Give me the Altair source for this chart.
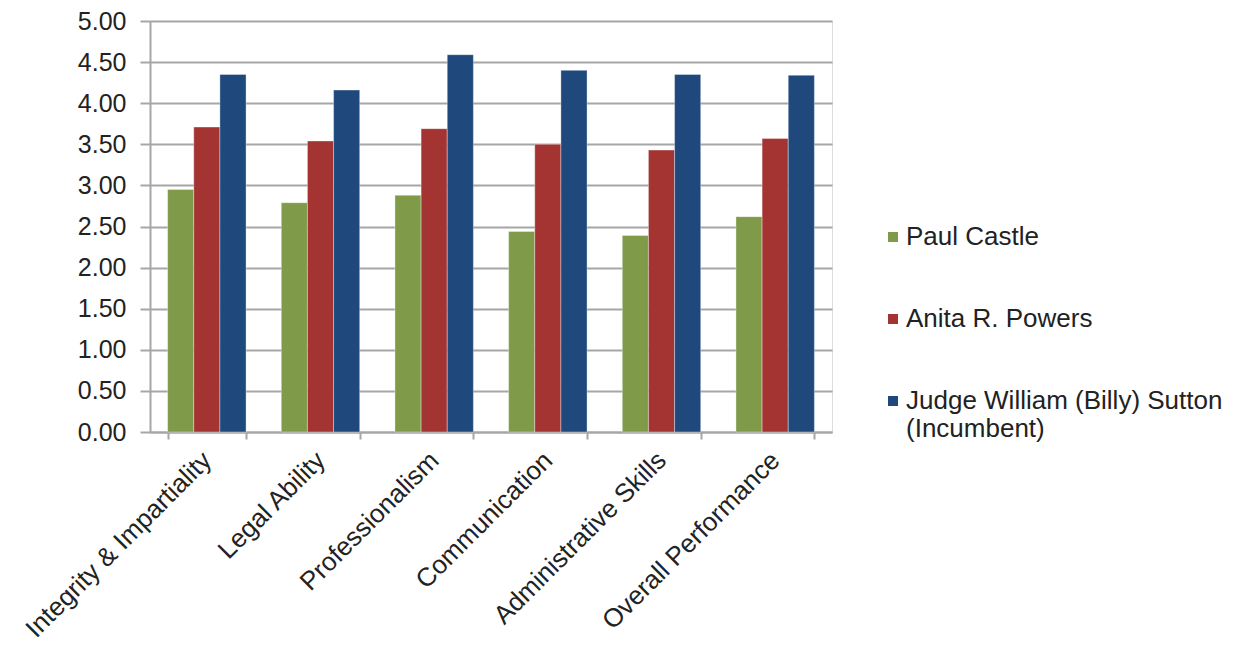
import altair as alt
import pandas as pd

categories = ["Integrity & Impartiality", "Legal Ability", "Professionalism",
              "Communication", "Administrative Skills", "Overall Performance"]
series = ["Paul Castle", "Anita R. Powers", "Judge William (Billy) Sutton (Incumbent)"]
paul = [2.95, 2.79, 2.88, 2.44, 2.39, 2.62]
anita = [3.71, 3.54, 3.69, 3.50, 3.43, 3.57]
billy = [4.35, 4.16, 4.59, 4.40, 4.35, 4.34]
colors = ["#7F9A48", "#A33432", "#1F497D"]
y_ticks = [0, 0.5, 1, 1.5, 2, 2.5, 3, 3.5, 4, 4.5, 5]

rows = []
for s, vals in zip(series, [paul, anita, billy]):
    for c, v in zip(categories, vals):
        rows.append({"Category": c, "Candidate": s, "Score": v})
df = pd.DataFrame(rows)

FONT = "Liberation Sans"

chart = alt.Chart(df).mark_bar(stroke="white", strokeWidth=0.6, strokeOpacity=0.6).encode(
    x=alt.X("Category:N", sort=categories, title=None,
            scale=alt.Scale(paddingInner=0.31, paddingOuter=0.155),
            axis=alt.Axis(labelAngle=-45, labelAlign="right", labelBaseline="middle",
                          labelFontSize=26, labelColor="#222222", labelFont=FONT,
                          labelPadding=17, labelLimit=500,
                          tickBand="extent", tickColor="#A6A6A6", tickSize=7, tickWidth=2,
                          domainColor="#A6A6A6", domainWidth=2)),
    xOffset=alt.XOffset("Candidate:N", sort=series),
    y=alt.Y("Score:Q", title=None,
            scale=alt.Scale(domain=[0, 5], nice=False),
            axis=alt.Axis(values=y_ticks, format=".2f", labelFontSize=25, labelFont=FONT,
                          labelColor="#222222", labelPadding=14,
                          gridColor="#A6A6A6", gridWidth=2,
                          tickColor="#A6A6A6", tickSize=10, tickWidth=2,
                          domainColor="#A6A6A6", domainWidth=2)),
    color=alt.Color("Candidate:N", sort=series,
                    scale=alt.Scale(domain=series, range=colors),
                    legend=alt.Legend(title=None, orient="none", legendX=730, legendY=203,
                                      symbolType="square", symbolSize=100, symbolStrokeWidth=0,
                                      labelFontSize=26, labelFont=FONT, labelColor="#222222",
                                      labelLimit=500, rowPadding=56, labelOffset=0,
                                      labelExpr="datum.label == 'Judge William (Billy) Sutton (Incumbent)' ? ['Judge William (Billy) Sutton', '(Incumbent)'] : datum.label")),
).properties(
    width=682, height=411,
    autosize=alt.AutoSizeParams(type="none"),
    padding={"left": 142, "top": 13, "right": 397, "bottom": 212},
).configure_view(stroke=None).configure(background="white")

chart.save("out.html", embed_options={"renderer": "svg", "actions": False})
